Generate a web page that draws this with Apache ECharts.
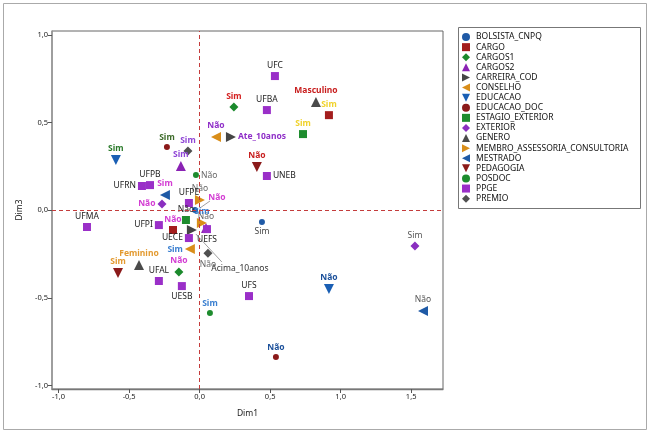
<!DOCTYPE html>
<html>
<head>
<meta charset="utf-8">
<script src="https://cdn.jsdelivr.net/npm/echarts@6/dist/echarts.min.js"></script>
<style>
  html, body { margin: 0; padding: 0; background: #fff; }
  #main { width: 650px; height: 433px; }
</style>
</head>
<body>
<div id="main"></div>
<script>
// eixos
var xTicks = [-1, -0.5, 0, 0.5, 1, 1.5];
var yTicks = [-1, -0.5, 0, 0.5, 1];

// coordenadas [categoria, Dim1, Dim3]
var bolsistaCnpq   = [['Sim', 0.442, -0.067], ['Não', -0.033, 0.002]];
var cargo          = [['Sim', 0.917, 0.543], ['Não', -0.189, -0.112]];
var cargos1        = [['Sim', 0.243, 0.589], ['Não', -0.147, -0.352]];
var cargos2        = [['Sim', -0.133, 0.253], ['Não', 0.045, -0.101]];
var carreiraCod    = [['Ate_10anos', 0.222, 0.418], ['Acima_10anos', -0.055, -0.112]];
var conselho       = [['Não', 0.116, 0.418], ['Sim', -0.069, -0.221]];
var educacao       = [['Sim', -0.594, 0.287], ['Não', 0.917, -0.449]];
var educacaoDoc    = [['Sim', -0.232, 0.361], ['Não', 0.541, -0.837]];
var estagioExt     = [['Sim', 0.733, 0.435], ['Não', -0.097, -0.055]];
var exterior       = [['Não', -0.267, 0.036], ['Sim', 1.527, -0.204]];
var genero         = [['Masculino', 0.825, 0.618], ['Feminino', -0.430, -0.312]];
var membro         = [['Não', 0.002, 0.059], ['Sim', 0.016, -0.072]];
var mestrado       = [['Sim', -0.246, 0.087], ['Não', 1.584, -0.574]];
var pedagogia      = [['Não', 0.406, 0.247], ['Sim', -0.579, -0.358]];
var posdoc         = [['Não', -0.026, 0.201], ['Sim', 0.073, -0.586]];
var ppge           = [['UFC', 0.534, 0.766], ['UFBA', 0.477, 0.572], ['UNEB', 0.477, 0.196],
                      ['UFPB', -0.352, 0.144], ['UFRN', -0.409, 0.139], ['UFPE', -0.076, 0.042],
                      ['UFMA', -0.799, -0.095], ['UFPI', -0.289, -0.084], ['UECE', -0.076, -0.158],
                      ['UEFS', 0.052, -0.107], ['UFAL', -0.289, -0.403], ['UESB', -0.126, -0.432],
                      ['UFS', 0.350, -0.489]];
var premio         = [['Sim', -0.083, 0.338], ['Não', 0.059, -0.244]];

var RT = 'path://M0,0L10,5L0,10Z';   // triangulo p/ direita
var LT = 'path://M10,0L0,5L10,10Z';  // triangulo p/ esquerda
var DT = 'path://M0,0L10,0L5,10Z';   // triangulo p/ baixo

var seriesDef = [
	['BOLSISTA_CNPQ', bolsistaCnpq, 'circle', 6, '#1f5aa6'],
	['CARGO', cargo, 'rect', 8, '#a31d1d'],
	['CARGOS1', cargos1, 'diamond', 9, '#1b8a2c'],
	['CARGOS2', cargos2, 'triangle', 10, '#8a22b4'],
	['CARREIRA_COD', carreiraCod, RT, 10, '#454545'],
	['CONSELHO', conselho, LT, 10, '#d98e1a'],
	['EDUCACAO', educacao, DT, 10, '#1a5fb4'],
	['EDUCACAO_DOC', educacaoDoc, 'circle', 6, '#8b1a1a'],
	['ESTAGIO_EXTERIOR', estagioExt, 'rect', 8, '#1e8c2e'],
	['EXTERIOR', exterior, 'diamond', 9, '#8a2fc0'],
	['GENERO', genero, 'triangle', 10, '#4a4a4a'],
	['MEMBRO_ASSESSORIA_CONSULTORIA', membro, RT, 10, '#d98e1a'],
	['MESTRADO', mestrado, LT, 10, '#1f5aa6'],
	['PEDAGOGIA', pedagogia, DT, 10, '#8b1a1a'],
	['POSDOC', posdoc, 'circle', 6, '#1e8c2e'],
	['PPGE', ppge, 'rect', 8, '#9a2fc8'],
	['PREMIO', premio, 'diamond', 9, '#505050']
];

// estilo dos rotulos: [cor, posicao, negrito, offset]
var labelStyle = {
	'BOLSISTA_CNPQ|Sim': ['#444', 'bottom', 0],
	'BOLSISTA_CNPQ|Não': ['#d33cd3', 'top', 1],
	'CARGO|Sim': ['#f0d22c', 'top', 1],
	'CARGO|Não': ['#d33cd3', 'top', 1],
	'CARGOS1|Sim': ['#d42020', 'top', 1],
	'CARGOS1|Não': ['#d33cd3', 'top', 1],
	'CARGOS2|Sim': ['#8f45d6', 'top', 1],
	'CARGOS2|Não': ['#666', 'top', 0, [8, 2]],
	'CARREIRA_COD|Ate_10anos': ['#8f2fc8', 'right', 1],
	'CARREIRA_COD|Acima_10anos': ['#333', 'bottom', 0],
	'CONSELHO|Não': ['#8f2fc8', 'top', 1],
	'CONSELHO|Sim': ['#3a7fd0', 'left', 1],
	'EDUCACAO|Sim': ['#2a7a2a', 'top', 1],
	'EDUCACAO|Não': ['#1a4f9a', 'top', 1],
	'EDUCACAO_DOC|Sim': ['#3d6b2a', 'top', 1],
	'EDUCACAO_DOC|Não': ['#1a4f9a', 'top', 1],
	'ESTAGIO_EXTERIOR|Sim': ['#f0d22c', 'top', 1],
	'ESTAGIO_EXTERIOR|Não': ['#222', 'top', 0],
	'EXTERIOR|Não': ['#d33cd3', 'left', 1],
	'EXTERIOR|Sim': ['#555', 'top', 0],
	'GENERO|Masculino': ['#c81e1e', 'top', 1, [6, 0]],
	'GENERO|Feminino': ['#e39a30', 'top', 1],
	'MEMBRO_ASSESSORIA_CONSULTORIA|Não': ['#666', 'top', 0],
	'MEMBRO_ASSESSORIA_CONSULTORIA|Sim': ['#3a7fd0', 'top', 1],
	'MESTRADO|Sim': ['#d33cd3', 'top', 1],
	'MESTRADO|Não': ['#555', 'top', 0],
	'PEDAGOGIA|Não': ['#c81e1e', 'top', 1],
	'PEDAGOGIA|Sim': ['#e39a30', 'top', 1],
	'POSDOC|Não': ['#666', 'right', 0],
	'POSDOC|Sim': ['#3a7fd0', 'top', 1],
	'PREMIO|Sim': ['#8f45d6', 'top', 1],
	'PREMIO|Não': ['#666', 'bottom', 0],
	'PPGE|UNEB': ['#222', 'right', 0],
	'PPGE|UFRN': ['#222', 'left', 0],
	'PPGE|UFPI': ['#222', 'left', 0],
	'PPGE|UECE': ['#222', 'left', 0],
	'PPGE|UEFS': ['#222', 'bottom', 0, [9, 0]],
	'PPGE|UFAL': ['#222', 'top', 0, [-9, 0]],
	'PPGE|UESB': ['#222', 'bottom', 0]
};
// rotulos deslocados: [dx, dy, inicio da linha, fim da linha] em px relativos ao ponto
var leaders = {
	'BOLSISTA_CNPQ|Não': [22, -3, [5, -2], [15, -9]],
	'CARREIRA_COD|Acima_10anos': [48, 27, [4, 4], [30, 32]]
};

var FONT = 'Noto Sans';

function fmt(v){
	return v.toFixed(1).replace('.', ',');
}

var series = [];
for (var i in seriesDef) {
	(function(d){
		var nm = d[0];
		var items = [];
		for (var j in d[1]) {
			var p = d[1][j];
			var k = nm + '|' + p[0];
			var s = labelStyle[k] || ['#222', 'top', 0];
			items.push({
				name: p[0],
				value: [p[1], p[2]],
				label: {
					position: s[1],
					distance: 2,
					color: s[0],
					fontWeight: s[2] ? 'bold' : 'normal',
					offset: s[3] || [0, 0]
				}
			});
		}
		series.push({
			name: nm,
			type: 'scatter',
			symbol: d[2],
			symbolSize: d[3],
			itemStyle: { color: d[4], opacity: 1 },
			label: { show: true, formatter: '{b}', fontSize: 8.5, fontFamily: FONT },
			labelLayout: function(pr){
				var l = leaders[nm + '|' + d[1][pr.dataIndex][0]];
				return l ? { dx: l[0], dy: l[1] } : {};
			},
			emphasis: { disabled: true },
			data: items
		});
	})(seriesDef[i]);
}

// linhas de referencia em zero
series.push({
	name: 'ref',
	type: 'scatter',
	data: [],
	silent: true,
	markLine: {
		silent: true,
		symbol: 'none',
		label: { show: false },
		lineStyle: { color: '#c43c3c', type: [4, 3], width: 1 },
		data: [{ xAxis: 0 }, { yAxis: 0 }]
	}
});

var legendNames = [];
for (var n in seriesDef) legendNames.push(seriesDef[n][0]);

var frames = [
	{ type: 'rect', shape: { x: 3.5, y: 3.5, width: 643, height: 426 }, style: { fill: 'none', stroke: '#aaa', lineWidth: 1 } },
	{ type: 'rect', shape: { x: 458.5, y: 27.5, width: 182, height: 181 }, style: { fill: 'none', stroke: '#777', lineWidth: 1 } }
];

var myChart = echarts.init(document.getElementById('main'));
myChart.setOption({
	animation: false,
	textStyle: { fontFamily: FONT },
	graphic: frames,
	legend: {
		orient: 'vertical',
		left: 462,
		top: 32,
		data: legendNames,
		itemWidth: 8,
		itemHeight: 8,
		itemGap: 0,
		padding: 0,
		selectedMode: false,
		textStyle: { fontSize: 8.5, color: '#111', fontFamily: FONT, lineHeight: 10.1, padding: [0, 0, 0, 1] }
	},
	grid: {
		left: 52, top: 31, right: 207, bottom: 44,
		show: true, borderColor: '#666', borderWidth: 1
	},
	xAxis: {
		type: 'value',
		min: -1.047, max: 1.726,
		name: 'Dim1', nameLocation: 'middle', nameGap: 20,
		nameTextStyle: { fontSize: 8.5, color: '#222' },
		splitLine: { show: false },
		axisLine: { show: true, onZero: false, lineStyle: { color: '#777', width: 1.3 } },
		axisTick: { show: true, length: 4, customValues: xTicks, lineStyle: { color: '#555' } },
		axisLabel: { customValues: xTicks, formatter: fmt, fontSize: 7.5, color: '#222', margin: 4 }
	},
	yAxis: {
		type: 'value',
		min: -1.019, max: 1.023,
		name: 'Dim3', nameLocation: 'middle', nameGap: 26, nameRotate: 90,
		nameTextStyle: { fontSize: 8.5, color: '#222' },
		splitLine: { show: false },
		axisLine: { show: true, onZero: false, lineStyle: { color: '#999', width: 1.5 } },
		axisTick: { show: true, length: 4, customValues: yTicks, lineStyle: { color: '#555' } },
		axisLabel: { customValues: yTicks, formatter: fmt, fontSize: 7.5, color: '#222', margin: 4 }
	},
	series: series
});

// linhas guia dos rotulos deslocados, a partir da posicao do ponto na escala
var guides = frames.slice();
for (var g in seriesDef) {
	for (var h in seriesDef[g][1]) {
		var pt = seriesDef[g][1][h];
		var lk = leaders[seriesDef[g][0] + '|' + pt[0]];
		if (!lk) continue;
		var px = myChart.convertToPixel({ gridIndex: 0 }, [pt[1], pt[2]]);
		guides.push({
			type: 'line', z: 1,
			shape: { x1: px[0] + lk[2][0], y1: px[1] + lk[2][1], x2: px[0] + lk[3][0], y2: px[1] + lk[3][1] },
			style: { stroke: '#777', lineWidth: 0.7 }
		});
	}
}
myChart.setOption({ graphic: guides });
</script>
</body>
</html>
